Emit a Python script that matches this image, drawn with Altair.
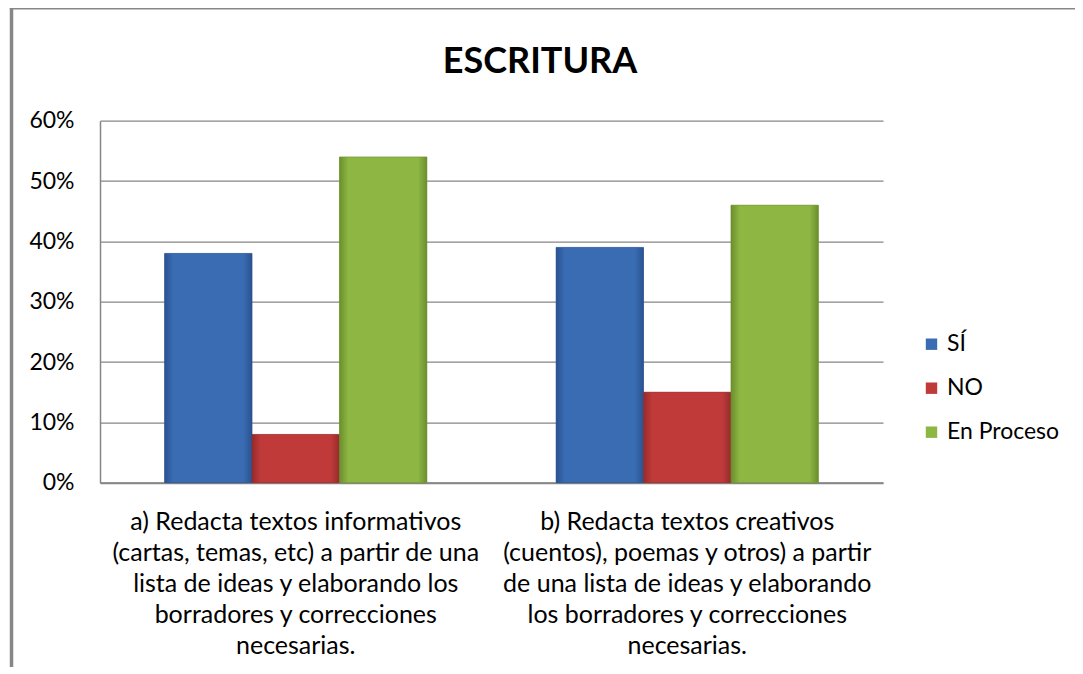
import altair as alt
import pandas as pd

categories = [
    "a) Redacta textos informativos\n(cartas, temas, etc) a partir de una\nlista de ideas y elaborando los\nborradores y correcciones\nnecesarias.",
    "b) Redacta textos creativos\n(cuentos), poemas y otros) a partir\nde una lista de ideas y elaborando\nlos borradores y correcciones\nnecesarias.",
]
series = ["SÍ", "NO", "En Proceso"]
si_values = [0.38, 0.39]
no_values = [0.08, 0.15]
proceso_values = [0.54, 0.46]
colors = ["#3A6CB3", "#C03A3A", "#8DB643"]
edge_colors = ["#2A5290", "#962B2B", "#6B8E2E"]
y_ticks = [0.0, 0.1, 0.2, 0.3, 0.4, 0.5, 0.6]
title_text = "ESCRITURA"

rows = []
for s, vals in zip(series, [si_values, no_values, proceso_values]):
    for c, v in zip(categories, vals):
        rows.append({"cat": c, "serie": s, "value": v})
df = pd.DataFrame(rows)

FONT = "Lato"
GREY = "#868686"

x_enc = alt.X(
    "cat:N", sort=categories, title=None,
    scale=alt.Scale(paddingInner=0.33, paddingOuter=0.165),
    axis=alt.Axis(
        labelExpr="split(datum.label, '\\n')", labelAngle=0, labelFont=FONT,
        labelFontSize=25, labelLineHeight=31, labelPadding=27, ticks=False,
        domainColor=GREY, domainWidth=2, labelColor="#000000",
        labelBaseline="top", labelLimit=600,
    ),
)
xo_enc = alt.XOffset("serie:N", sort=series, scale=alt.Scale(domain=series, paddingInner=0, paddingOuter=0))
y_enc = alt.Y(
    "value:Q", title=None,
    scale=alt.Scale(domain=[0, 0.6], nice=False),
    axis=alt.Axis(
        values=y_ticks, format=".0%", grid=True, gridColor=GREY, gridWidth=1.2,
        ticks=False, labelPadding=26, domainColor=GREY, domainWidth=1.5,
        labelFont=FONT, labelFontSize=23, labelColor="#000000",
    ),
)

bars = alt.Chart(df).mark_bar().encode(
    x=x_enc, xOffset=xo_enc, y=y_enc,
    color=alt.Color(
        "serie:N", sort=series,
        scale=alt.Scale(domain=series, range=colors),
        legend=alt.Legend(
            title=None, orient="none", legendX=820, legendY=212,
            symbolType="square", symbolSize=130, symbolStrokeWidth=0,
            labelFont=FONT, labelFontSize=23, labelColor="#000000",
            rowPadding=20, padding=0, labelOffset=4,
        ),
    ),
)

overlays = []
for s, base, edge in zip(series, colors, edge_colors):
    grad = alt.Gradient(
        gradient="linear", x1=0, x2=1, y1=0, y2=0,
        stops=[
            alt.GradientStop(color=edge, offset=0),
            alt.GradientStop(color=base, offset=0.1),
            alt.GradientStop(color=base, offset=0.9),
            alt.GradientStop(color=edge, offset=1),
        ],
    )
    overlays.append(
        alt.Chart(df).transform_filter(alt.datum.serie == s)
        .mark_bar(fill=grad, stroke=edge, strokeWidth=0.6)
        .encode(x=x_enc, xOffset=xo_enc, y=y_enc)
    )

frame_df = pd.DataFrame({"k": [0]})
left_border = alt.Chart(frame_df).mark_rule(color="#878787", strokeWidth=3.5).encode(
    x=alt.value(-88.5), y=alt.value(-113.5), y2=alt.value(620)
)
top_border = alt.Chart(frame_df).mark_rule(color="#878787", strokeWidth=3.5).encode(
    x=alt.value(-90.2), x2=alt.value(1000), y=alt.value(-113)
)
title = alt.Chart(frame_df).mark_text(
    font=FONT, fontSize=36, fontWeight="bold", color="#000000",
    align="center", baseline="alphabetic",
).encode(x=alt.value(440), y=alt.value(-48), text=alt.value(title_text))

chart = alt.layer(bars, *overlays, left_border, top_border, title).properties(
    width=783,
    height=362,
    autosize=alt.AutoSizeParams(type="none"),
    padding={"left": 92, "top": 112.7, "right": 192, "bottom": 184},
).configure_view(stroke=None)

chart.save("out.html", embed_options={"renderer": "svg", "actions": False})
